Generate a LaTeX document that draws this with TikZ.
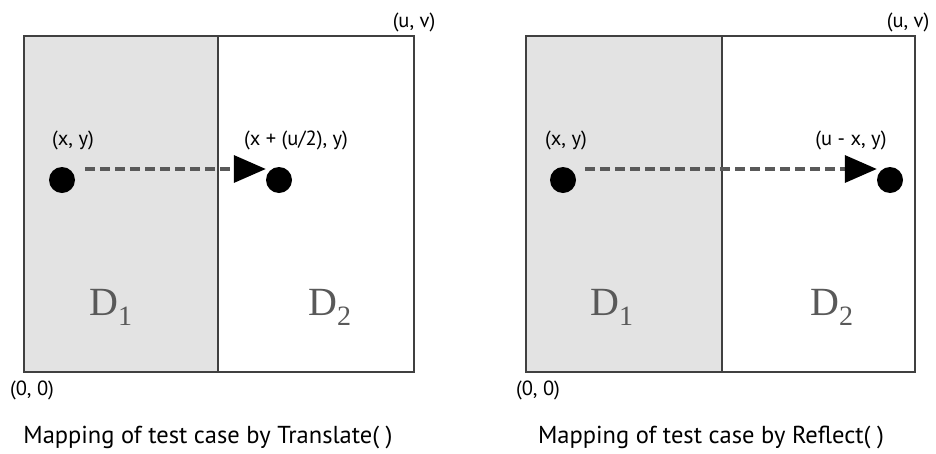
\documentclass[tikz,border=0pt]{standalone}
\usepackage{fontspec}
\setmainfont{PT Sans}
\newfontfamily\regionfont{Liberation Serif}
\usetikzlibrary{arrows.meta}

\begin{document}
\begin{tikzpicture}[
  x=1pt, y=-1pt,
  frame/.style={draw=black!75, line width=2.6pt},
  halfshade/.style={fill=black!11},
  dot/.style={circle, fill=black, minimum size=26pt, inner sep=0pt},
  lbl/.style={font=\fontsize{20.5}{24}\selectfont, inner sep=0pt},
  region/.style={font=\regionfont\fontsize{40}{44}\selectfont, text=black!65, inner sep=0pt},
  caption/.style={font=\fontsize{24.5}{28}\selectfont, inner sep=0pt},
  maparrow/.style={draw=black!65, line width=3.5pt, dash pattern=on 10pt off 5pt,
                   -{Triangle[length=32pt, width=27pt, color=black]}}
]
  \useasboundingbox (0,0) rectangle (936,453);
  % left panel: Translate
  \fill[halfshade] (24,36) rectangle (218,372);
  \draw[frame] (24,36) rectangle (414,372);
  \draw[frame] (218,36) -- (218,372);
  \node[dot] (srcT) at (62,180) {};
  \node[dot] (dstT) at (279,180) {};
  \node[lbl] (srcTlbl) at (73,140) {(x, y)};
  \node[lbl] (dstTlbl) at (296,140) {(x + (u/2), y)};
  \node[lbl] (cornerTuv) at (414,22) {(u, v)};
  \node[lbl] (cornerT00) at (32,390) {(0, 0)};
  \node[region] (regTone) at (111,307) {D\textsubscript{1}};
  \node[region] (regTtwo) at (330,307) {D\textsubscript{2}};
  \node[caption] (capT) at (208,437) {Mapping of test case by Translate( )};
  % right panel: Reflect
  \fill[halfshade] (526,36) rectangle (722,372);
  \draw[frame] (526,36) rectangle (915,372);
  \draw[frame] (722,36) -- (722,372);
  \node[dot] (srcR) at (563,180) {};
  \node[dot] (dstR) at (890,180) {};
  \node[lbl] (srcRlbl) at (566,140) {(x, y)};
  \node[lbl] (dstRlbl) at (851,140) {(u - x, y)};
  \node[lbl] (cornerRuv) at (908,22) {(u, v)};
  \node[lbl] (cornerR00) at (538,390) {(0, 0)};
  \node[region] (regRone) at (612,307) {D\textsubscript{1}};
  \node[region] (regRtwo) at (832,307) {D\textsubscript{2}};
  \node[caption] (capR) at (711,437) {Mapping of test case by Reflect( )};
  % arrows
  \draw[maparrow] ([xshift=10pt, yshift=11pt]srcT.east) -- ([yshift=11pt]dstT.west);
  \draw[maparrow] ([xshift=9pt, yshift=11pt]srcR.east) -- ([yshift=11pt]dstR.west);
\end{tikzpicture}
\end{document}
